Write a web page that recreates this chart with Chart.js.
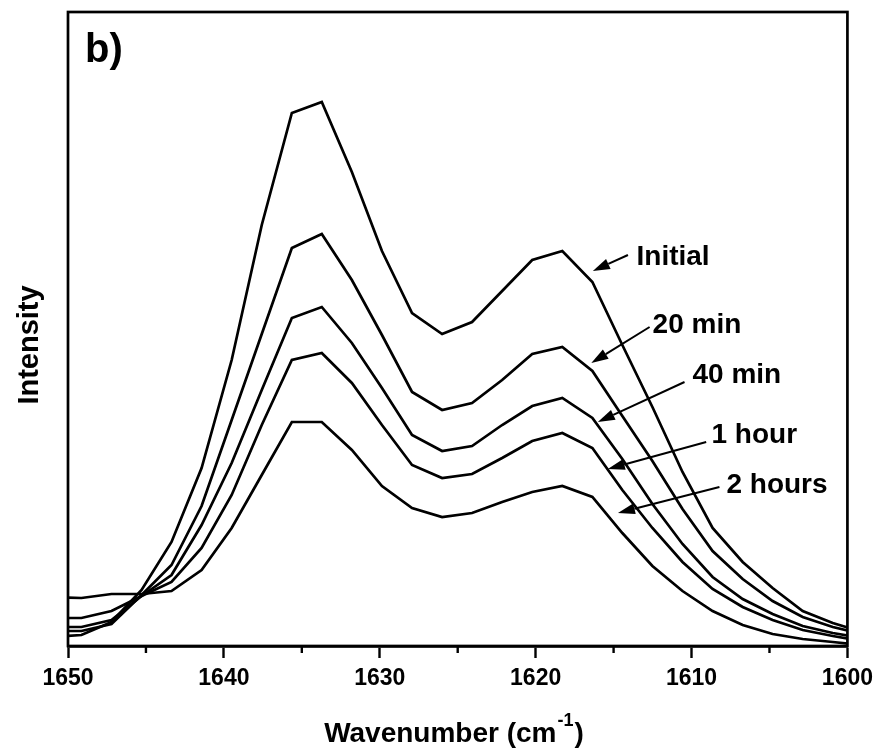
<!DOCTYPE html>
<html lang="en">
  <head>
    <meta charset="UTF-8" />
    <title>Intensity vs wavenumber</title>
    <script src="https://cdn.jsdelivr.net/npm/chart.js"></script>
    <style>
      body {
        margin: 0;
        background: #fff;
      }
    </style>
  </head>
  <body>
    <canvas id="chart" width="880" height="749"></canvas>

    <script>
      // spectra (arbitrary intensity units)
      const wavenumber = [1651.07, 1649.14, 1647.21, 1645.28, 1643.36, 1641.43, 1639.5, 1637.57, 1635.64, 1633.72,
        1631.79, 1629.86, 1627.93, 1626.0, 1624.08, 1622.15, 1620.22, 1618.29, 1616.36, 1614.44,
        1612.51, 1610.58, 1608.65, 1606.72, 1604.8, 1602.87, 1600.94, 1599.01];
      const initial = [9, 11, 24, 56, 104, 178, 286, 421, 533, 544, 474, 395, 333, 312, 324, 355, 386, 395, 364, 301,
        239, 174, 118, 84, 58, 35, 23, 14];
      const min20 = [15, 15, 22, 51, 81, 140, 226, 312, 398, 412, 366, 311, 254, 236, 243, 266, 292, 299, 275, 230,
        185, 137, 95, 67, 45, 29, 19, 12];
      const min40 = [19, 19, 26, 50, 71, 121, 183, 256, 328, 339, 303, 258, 211, 195, 200, 221, 240, 248, 228, 187,
        142, 102, 69, 47, 32, 20, 13, 8];
      const hour1 = [28, 28, 35, 50, 64, 98, 151, 221, 286, 293, 263, 221, 181, 168, 172, 188, 205, 213, 198, 156,
        118, 84, 57, 39, 26, 16, 10, 5];
      const hours2 = [49, 48, 52, 52, 55, 76, 118, 171, 224, 224, 196, 160, 138, 129, 133, 144, 154, 160, 149, 113,
        80, 55, 35, 21, 12, 7, 4, 1];

      const xTicks = [1650, 1640, 1630, 1620, 1610, 1600];
      const xMinorTicks = [1645, 1635, 1625, 1615, 1605];

      // curve labels with arrows (data units)
      const annLabels = ["Initial", "20 min", "40 min", "1 hour", "2 hours"];
      const annTextX = [1613.53, 1612.5, 1609.94, 1608.72, 1607.76];
      const annTextY = [389, 321, 271, 211, 161];
      const annTailX = [1614.08, 1612.69, 1610.45, 1609.06, 1608.21];
      const annTailY = [391, 319, 264, 204, 159];
      const annTipX = [1616.33, 1616.43, 1616.01, 1615.37, 1614.72];
      const annTipY = [375, 283, 224, 177, 133];

      const FONT = "'Liberation Sans', Arial, sans-serif";

      function series(values) {
        return {
          data: values.map((v, i) => ({ x: wavenumber[i], y: v })),
          borderColor: "#000",
          borderWidth: 2.7,
          pointRadius: 0,
          tension: 0,
          fill: false,
        };
      }

      const decor = {
        id: "decor",
        afterDraw(chart) {
          const ctx = chart.ctx;
          const a = chart.chartArea;
          const xs = chart.scales.x;
          const ys = chart.scales.y;
          ctx.save();
          ctx.strokeStyle = "#000";
          ctx.fillStyle = "#000";

          // frame
          ctx.lineWidth = 2.7;
          ctx.strokeRect(a.left, a.top, a.right - a.left, a.bottom - a.top);

          // minor ticks
          ctx.lineWidth = 2.4;
          xMinorTicks.forEach((v) => {
            const px = xs.getPixelForValue(v);
            ctx.beginPath();
            ctx.moveTo(px, a.bottom);
            ctx.lineTo(px, a.bottom + 7);
            ctx.stroke();
          });

          // panel letter
          ctx.font = "bold 40px " + FONT;
          ctx.textAlign = "left";
          ctx.textBaseline = "alphabetic";
          ctx.fillText("b)", 85, 62);

          // y title
          ctx.save();
          ctx.translate(38, 345);
          ctx.rotate(-Math.PI / 2);
          ctx.font = "bold 29px " + FONT;
          ctx.textAlign = "center";
          ctx.fillText("Intensity", 0, 0);
          ctx.restore();

          // x title with superscript
          ctx.font = "bold 28px " + FONT;
          const t1 = "Wavenumber (cm";
          const w1 = ctx.measureText(t1).width;
          ctx.font = "bold 18px " + FONT;
          const t2 = "-1";
          const w2 = ctx.measureText(t2).width;
          ctx.font = "bold 28px " + FONT;
          const w3 = ctx.measureText(")").width;
          let tx = 453 - (w1 + w2 + w3) / 2;
          ctx.fillText(t1, tx, 742);
          ctx.font = "bold 18px " + FONT;
          ctx.fillText(t2, tx + w1 + 1, 726);
          ctx.font = "bold 28px " + FONT;
          ctx.fillText(")", tx + w1 + w2 + 2, 742);

          // curve labels and arrows
          ctx.font = "bold 28px " + FONT;
          ctx.textBaseline = "middle";
          annLabels.forEach((lab, i) => {
            ctx.fillText(lab, xs.getPixelForValue(annTextX[i]), ys.getPixelForValue(annTextY[i]));
            const x0 = xs.getPixelForValue(annTailX[i]);
            const y0 = ys.getPixelForValue(annTailY[i]);
            const x1 = xs.getPixelForValue(annTipX[i]);
            const y1 = ys.getPixelForValue(annTipY[i]);
            const ang = Math.atan2(y1 - y0, x1 - x0);
            const hl = 17, hw = 5.5;
            ctx.lineWidth = 2;
            ctx.beginPath();
            ctx.moveTo(x0, y0);
            ctx.lineTo(x1 - hl * Math.cos(ang), y1 - hl * Math.sin(ang));
            ctx.stroke();
            ctx.beginPath();
            ctx.moveTo(x1, y1);
            ctx.lineTo(x1 - hl * Math.cos(ang) + hw * Math.sin(ang), y1 - hl * Math.sin(ang) - hw * Math.cos(ang));
            ctx.lineTo(x1 - hl * Math.cos(ang) - hw * Math.sin(ang), y1 - hl * Math.sin(ang) + hw * Math.cos(ang));
            ctx.closePath();
            ctx.fill();
          });
          ctx.restore();
        },
      };

      new Chart(document.getElementById("chart"), {
        type: "line",
        data: {
          datasets: [series(initial), series(min20), series(min40), series(hour1), series(hours2)],
        },
        plugins: [decor],
        options: {
          responsive: false,
          animation: false,
          layout: { padding: { top: 12, right: 32, left: 0, bottom: 0 } },
          plugins: { legend: { display: false }, tooltip: { enabled: false } },
          scales: {
            x: {
              type: "linear",
              min: 1600,
              max: 1650,
              reverse: true,
              afterFit: (s) => {
                s.height = 103;
              },
              afterBuildTicks: (s) => {
                s.ticks = xTicks.map((v) => ({ value: v }));
              },
              grid: {
                drawOnChartArea: false,
                drawTicks: true,
                tickLength: 12,
                tickWidth: 2.4,
                tickColor: "#000",
              },
              border: { display: true, color: "#000", width: 2.7 },
              ticks: {
                color: "#000",
                padding: 7,
                maxRotation: 0,
                font: { family: FONT, size: 23, weight: "bold" },
                callback: (v) => v,
              },
            },
            y: {
              min: 0,
              max: 634,
              afterFit: (s) => {
                s.width = 68;
              },
              grid: { display: false },
              border: { display: false },
              ticks: { display: false },
            },
          },
        },
      });
    </script>
  </body>
</html>
